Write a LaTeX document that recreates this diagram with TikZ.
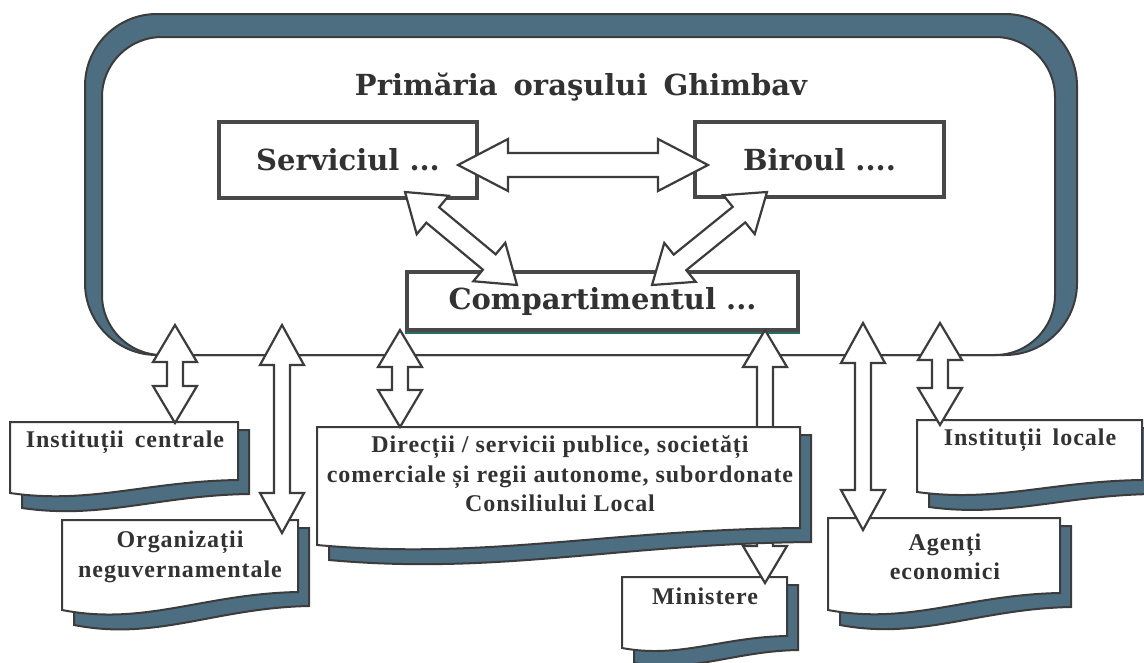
\documentclass[tikz,border=0pt]{standalone}
\usepackage{fontspec}
\usetikzlibrary{calc}
\newfontfamily\upfont{DejaVu Serif}
\newfontfamily\lowfont[LetterSpace=4]{Liberation Serif}
\definecolor{shadowc}{RGB}{77,110,128}
\definecolor{framec}{RGB}{60,60,60}
\definecolor{boxc}{RGB}{72,72,72}
\definecolor{txtc}{RGB}{50,50,50}
\definecolor{tealc}{RGB}{40,110,100}
\tikzset{
  frameline/.style={draw=framec, line width=2pt},
  ubox/.style={draw=boxc, line width=3.5pt, fill=white, inner sep=0pt, text=txtc,
    font=\upfont\bfseries\fontsize{29}{33}\selectfont},
  titletext/.style={inner sep=0pt, text=txtc, font=\upfont\bfseries\fontsize{29}{33}\selectfont},
  ltxt/.style={inner sep=0pt, text=txtc, align=center,
    font=\lowfont\bfseries\fontsize{24}{29.5}\selectfont},
  docline/.style={draw=framec, line width=2pt},
  blockarrow/.style={draw=framec, line width=2.2pt, fill=white, line join=miter},
}
% #1 name, #2 x0, #3 top, #4 x1, #5 y bottom-left, #6 y bottom-right
\newcommand\docshape[6]{%
  \pgfmathsetmacro\dw{#4-#2}\pgfmathsetmacro\dd{#5-#6}%
  \draw[docline, fill=shadowc] ({#2+12},{#3+8}) -- ({#4+11},{#3+8}) -- ({#4+11},{#6+14})
     .. controls ({#2+12+0.6*\dw},{#6+14+0.1*\dd}) and ({#2+12+0.35*\dw},{#5+15+0.9*\dd}) .. ({#2+12},{#5+15}) -- cycle;
  \draw[docline, fill=white] (#2,#3) -- (#4,#3) -- (#4,#6)
     .. controls ({#2+0.6*\dw},{#6+0.1*\dd}) and ({#2+0.35*\dw},{#5+0.9*\dd}) .. (#2,#5) -- cycle;
  \coordinate (#1) at ({(#2+#4)/2},#3);
}
% #1 from, #2 to, #3 shaft half width, #4 head half width, #5 head length
\newcommand\dbarrow[5]{%
  \coordinate (ba) at ($(#1)!#5!(#2)$);
  \coordinate (bb) at ($(#2)!#5!(#1)$);
  \draw[blockarrow] (#1) -- ($(ba)!#4!90:(#2)$) -- ($(ba)!#3!90:(#2)$)
    -- ($(bb)!#3!-90:(#1)$) -- ($(bb)!#4!-90:(#1)$) -- (#2)
    -- ($(bb)!#4!90:(#1)$) -- ($(bb)!#3!90:(#1)$)
    -- ($(ba)!#3!-90:(#2)$) -- ($(ba)!#4!-90:(#2)$) -- cycle;
}
\begin{document}
\begin{tikzpicture}[x=1pt,y=-1pt]
\useasboundingbox (0,0) rectangle (1144,662);
\fill[white] (0,0) rectangle (1144,662);

% main frame
\draw[frameline, fill=shadowc, rounded corners=72pt] (85,14) rectangle (1077,355);
\draw[frameline, fill=white, rounded corners=60pt] (102,37) rectangle (1055,355);

% title and inner boxes
\node[titletext] (title) at (581,87) {Primăria\hspace{16pt}oraşului\hspace{16pt}Ghimbav};
\node[ubox, minimum width=258pt, minimum height=76pt] (serv) at (348,160) {Serviciul ...};
\node[ubox, minimum width=249pt, minimum height=75pt] (bir) at (819.5,159.5) {Biroul ....};
\node[ubox, minimum width=391pt, minimum height=58pt] (comp) at (602.5,301) {Compartimentul ...};
\draw[tealc, line width=2pt] ($(comp.south west)+(0,1)$) -- ($(comp.south east)+(0,1)$);

% outside document boxes
\docshape{icT}{10}{422}{238}{493}{480}
\node[ltxt] (ic) at (125,442) {Instituții\ \hspace{4pt}centrale};
\docshape{ongT}{62}{520}{298}{610}{592}
\node[ltxt] (ong) at (180,557) {Organizații\\neguvernamentale};
\docshape{ilT}{917}{420}{1142}{492}{480}
\node[ltxt] (il) at (1030,440) {Instituții\ \hspace{4pt}locale};
\docshape{aeT}{828}{518}{1060}{610}{593}
\node[ltxt] (ae) at (945,557) {Agenți\\economici};
\docshape{minT}{622}{577}{787}{648}{636}
\node[ltxt] (min) at (705,596) {Ministere};

% arrow to Ministere passes behind the Direcții box
\coordinate (m1) at (765,330);
\coordinate (m2) at (765,583);
\dbarrow{m1}{m2}{8pt}{22pt}{37pt}

\docshape{dirT}{317}{427}{800}{545}{528}
\node[ltxt] (dir) at (560,474) {Direcții / servicii publice, societăți\\comerciale și regii autonome, subordonate\\Consiliului Local};

% arrows inside the city hall
\coordinate (h1) at (458,165);
\coordinate (h2) at (708,165);
\dbarrow{h1}{h2}{12pt}{26pt}{50pt}
\coordinate (d1) at (405,192);
\coordinate (d2) at (517,285);
\dbarrow{d1}{d2}{10pt}{25pt}{36pt}
\coordinate (e1) at (767,192);
\coordinate (e2) at (652,285);
\dbarrow{e1}{e2}{10pt}{25pt}{36pt}

% arrows to outside bodies
\coordinate (v1a) at (175,325); \coordinate (v1b) at (175,423);
\dbarrow{v1a}{v1b}{8pt}{22pt}{37pt}
\coordinate (v2a) at (282,325); \coordinate (v2b) at (282,533);
\dbarrow{v2a}{v2b}{8pt}{22pt}{40pt}
\coordinate (v3a) at (400,330); \coordinate (v3b) at (400,427);
\dbarrow{v3a}{v3b}{8pt}{22pt}{37pt}
\coordinate (v5a) at (863,323); \coordinate (v5b) at (863,530);
\dbarrow{v5a}{v5b}{8pt}{22pt}{40pt}
\coordinate (v6a) at (940,323); \coordinate (v6b) at (940,425);
\dbarrow{v6a}{v6b}{8pt}{22pt}{37pt}
\end{tikzpicture}
\end{document}
